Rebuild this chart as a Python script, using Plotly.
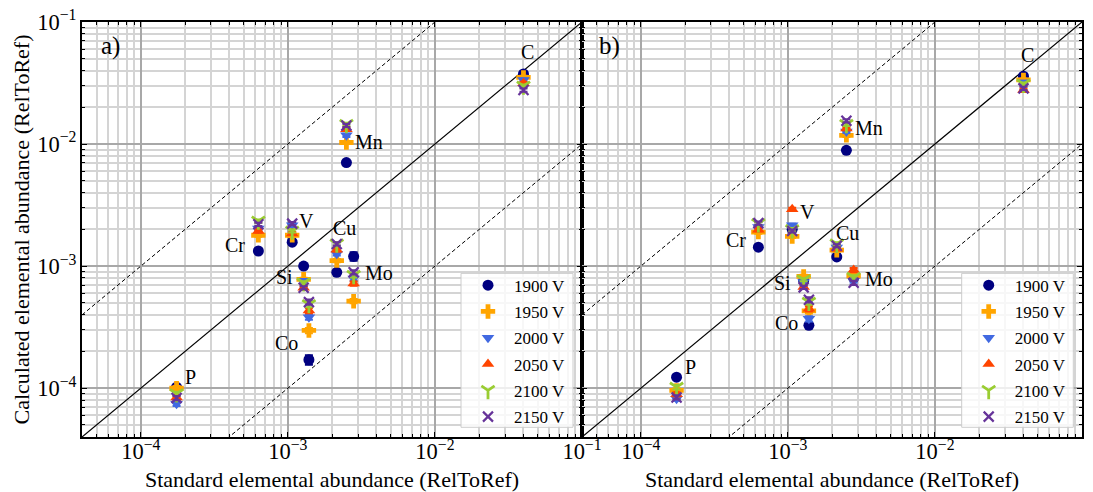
import numpy as np
import plotly.graph_objects as go

# ---------------- data ----------------
elements = ["P", "Cr", "V", "Si", "Co", "Cu", "Mn", "Mo", "C"]
standard = [1.75e-4, 6.3e-4, 1.07e-3, 1.28e-3, 1.39e-3, 2.15e-3, 2.5e-3, 2.8e-3, 4.0e-2]
voltages = ["1900 V", "1950 V", "2000 V", "2050 V", "2100 V", "2150 V"]

# panel a) calculated abundances
calc_a_1900 = [1.02e-4, 1.33e-3, 1.57e-3, 1.00e-3, 1.71e-4, 8.9e-4, 7.05e-3, 1.20e-3, 0.0375]
calc_a_1950 = [1.00e-4, 1.79e-3, 1.79e-3, 7.8e-4, 2.97e-4, 1.11e-3, 0.0103, 5.16e-4, 0.0352]
calc_a_2000 = [7.45e-5, 2.03e-3, 2.16e-3, 7.6e-4, 3.82e-4, 1.26e-3, 0.0118, 7.9e-4, 0.0335]
calc_a_2050 = [8.4e-5, 1.94e-3, 1.85e-3, 6.65e-4, 4.33e-4, 1.36e-3, 0.0132, 7.2e-4, 0.0315]
calc_a_2100 = [9.0e-5, 2.34e-3, 1.94e-3, 7.3e-4, 4.85e-4, 1.52e-3, 0.0145, 8.4e-4, 0.0299]
calc_a_2150 = [8.3e-5, 2.20e-3, 2.23e-3, 6.65e-4, 5.07e-4, 1.52e-3, 0.0142, 8.9e-4, 0.0277]

# panel b) calculated abundances
calc_b_1900 = [1.23e-4, 1.43e-3, 2.00e-3, 7.6e-4, 3.27e-4, 1.19e-3, 8.88e-3, 8.0e-4, 0.0360]
calc_b_1950 = [9.6e-5, 1.90e-3, 1.75e-3, 8.24e-4, 4.3e-4, 1.35e-3, 0.0118, 8.3e-4, 0.0335]
calc_b_2000 = [8.2e-5, 2.09e-3, 2.16e-3, 7.4e-4, 3.7e-4, 1.42e-3, 0.0127, 7.6e-4, 0.0320]
calc_b_2050 = [8.9e-5, 1.99e-3, 2.92e-3, 6.73e-4, 4.48e-4, 1.39e-3, 0.0134, 9.3e-4, 0.0277]
calc_b_2100 = [1.02e-4, 2.23e-3, 1.99e-3, 7.74e-4, 5.07e-4, 1.52e-3, 0.0145, 8.1e-4, 0.0310]
calc_b_2150 = [8.4e-5, 2.25e-3, 1.94e-3, 6.7e-4, 5.3e-4, 1.47e-3, 0.0155, 7.3e-4, 0.0286]

# relative uncertainties (%)
err_a_1900 = [4, 3, 3, 3, 9, 3, 3, 8, 3]
err_b_1900 = [4, 3, 3, 3, 4, 3, 3, 3, 3]
err_other = [4, 3, 3, 3, 5, 3, 3, 4, 3]

panel_a = [calc_a_1900, calc_a_1950, calc_a_2000, calc_a_2050, calc_a_2100, calc_a_2150]
panel_b = [calc_b_1900, calc_b_1950, calc_b_2000, calc_b_2050, calc_b_2100, calc_b_2150]
errs_a = [err_a_1900] + [err_other] * 5
errs_b = [err_b_1900] + [err_other] * 5

x_title = "Standard elemental abundance (RelToRef)"
y_title = "Calculated elemental abundance (RelToRef)"

# ---------------- styles ----------------
colors = ["#000080", "#FFA500", "#4169E1", "#FF4500", "#9ACD32", "#663399"]
symbols = ["circle", "cross", "triangle-down", "triangle-up", "y-down", "x-thin"]
sizes = [11, 12, 11, 11, 11, 10]
FONT = "Liberation Serif"

# label layout positions (log10 units) per panel: x, y, xanchor
labels_a = [(-3.713, -3.910, "left"), (-3.278, -2.828, "right"), (-2.937, -2.631, "left"),
            (-2.951, -3.090, "right"), (-2.917, -3.631, "right"), (-2.618, -2.689, "center"),
            (-2.556, -1.984, "left"), (-2.488, -3.057, "left"), (-1.373, -1.246, "center")]
labels_b = [(-3.713, -3.828, "left"), (-3.271, -2.787, "right"), (-2.931, -2.557, "left"),
            (-2.965, -3.139, "right"), (-2.917, -3.467, "right"), (-2.597, -2.730, "center"),
            (-2.556, -1.869, "left"), (-2.488, -3.107, "left"), (-1.369, -1.270, "center")]

LOGMIN, LOGMAX = -4.4, -1.0
ref_factors = [(1.0, "solid", 1.2), (10.0, "4px,2.5px", 1.0), (0.1, "4px,2.5px", 1.0)]

fig = go.Figure()

for xa, ya in [("x", "y"), ("x2", "y2")]:
    xs = np.array([10 ** LOGMIN, 10 ** LOGMAX])
    for fac, dash, w in ref_factors:
        fig.add_trace(go.Scatter(x=xs, y=xs * fac, mode="lines", xaxis=xa, yaxis=ya,
                                 line=dict(color="black", width=w, dash=dash),
                                 showlegend=False, hoverinfo="skip"))


def add_panel(series_list, err_list, xa, ya, legend, tag):
    for i, vals in enumerate(series_list):
        y = np.array(vals)
        e = y * np.array(err_list[i]) / 100.0
        mk = dict(symbol=symbols[i], size=sizes[i], color=colors[i])
        if symbols[i] in ("y-down", "x-thin"):
            mk["line"] = dict(color=colors[i], width=2.8 if symbols[i] == "y-down" else 2.2)
        else:
            mk["line"] = dict(width=0)
        fig.add_trace(go.Scatter(
            x=standard, y=y, mode="markers", xaxis=xa, yaxis=ya,
            name=voltages[i], legend=legend, legendgroup=tag + voltages[i],
            marker=mk,
            error_y=dict(type="data", array=e, visible=True, color=colors[i],
                         thickness=2, width=4),
        ))


add_panel(panel_a, errs_a, "x", "y", "legend", "a")
add_panel(panel_b, errs_b, "x2", "y2", "legend2", "b")

annotations = []
for (lx, ly, anc), el in zip(labels_a, elements):
    annotations.append(dict(x=lx, y=ly, xref="x", yref="y", text=el, showarrow=False,
                            xanchor=anc, yanchor="middle", font=dict(size=20, family=FONT)))
for (lx, ly, anc), el in zip(labels_b, elements):
    annotations.append(dict(x=lx, y=ly, xref="x2", yref="y2", text=el, showarrow=False,
                            xanchor=anc, yanchor="middle", font=dict(size=20, family=FONT)))
annotations.append(dict(x=0.034, y=0.942, xref="x domain", yref="y domain", text="a)",
                        showarrow=False, xanchor="left", yanchor="middle",
                        font=dict(size=25, family=FONT)))
annotations.append(dict(x=0.030, y=0.942, xref="x2 domain", yref="y2 domain", text="b)",
                        showarrow=False, xanchor="left", yanchor="middle",
                        font=dict(size=25, family=FONT)))
# y-axis title
annotations.append(dict(x=-0.061, y=0.5, xref="paper", yref="paper", text=y_title,
                        showarrow=False, textangle=-90, xanchor="center", yanchor="middle",
                        font=dict(size=22, family=FONT)))

axis_common = dict(
    type="log", range=[LOGMIN, LOGMAX], dtick=1, exponentformat="power",
    showline=True, linecolor="black", linewidth=2, mirror="allticks",
    ticks="inside", ticklen=5, tickwidth=1.2, tickcolor="black",
    showgrid=True, gridcolor="#a8a8a8", gridwidth=1.6, zeroline=False,
    automargin=False,
    tickfont=dict(size=18, family=FONT),
    minor=dict(dtick="D1", ticks="inside", ticklen=3, tickwidth=1, tickcolor="black",
               showgrid=True, gridcolor="#d4d4d4", gridwidth=1.6),
)

xtitle = dict(text=x_title, font=dict(size=22, family=FONT), standoff=10)

# legend frames (paper coordinates)
legend_frames = [(0.379, 0.491), (0.8797, 0.9913)]
shapes = [dict(type="rect", xref="paper", yref="paper", x0=x0, x1=x1, y0=0.0234, y1=0.3943,
               fillcolor="rgba(255,255,255,0.8)", line=dict(color="#cccccc", width=1),
               layer="above") for x0, x1 in legend_frames]

leg_common = dict(xanchor="left", yanchor="top", y=0.4082,
                  bgcolor="rgba(0,0,0,0)", borderwidth=0,
                  font=dict(size=17, family=FONT), itemwidth=42, tracegroupgap=1.2)

fig.update_layout(
    template="none",
    width=1093, height=492,
    margin=dict(l=82, r=11, t=22, b=55),
    plot_bgcolor="white", paper_bgcolor="white",
    font=dict(family=FONT, color="black"),
    xaxis=dict(axis_common, domain=[0, 0.5], anchor="y", title=xtitle, ticklabelstandoff=-6),
    xaxis2=dict(axis_common, domain=[0.5, 1.0], anchor="y2", title=xtitle, ticklabelstandoff=-6),
    yaxis=dict(axis_common, domain=[0, 1], anchor="x"),
    yaxis2=dict(axis_common, domain=[0, 1], anchor="x2", matches="y", showticklabels=False),
    legend=dict(leg_common, x=0.380),
    legend2=dict(leg_common, x=0.8807),
    shapes=shapes,
    annotations=annotations,
)

fig.write_html("out.html", config={"displayModeBar": False},
               post_script="document.body.style.margin='0px';document.body.style.overflow='hidden';")
